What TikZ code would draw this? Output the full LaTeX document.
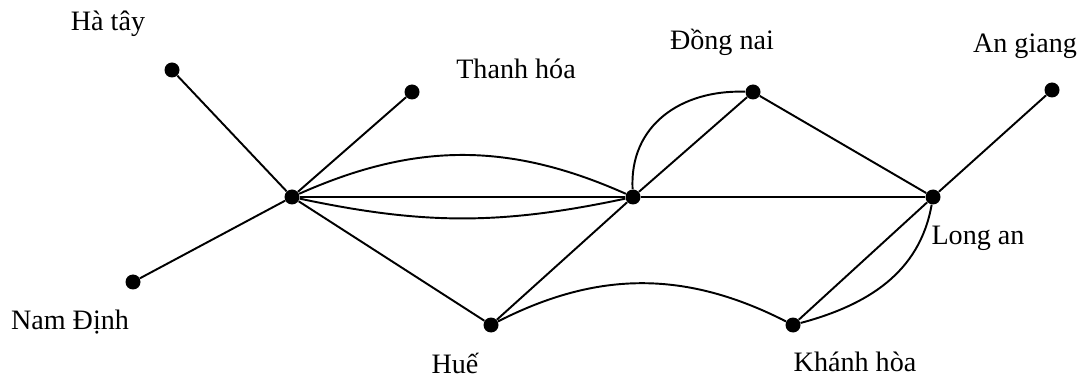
\documentclass[tikz,border=0pt]{standalone}
\usepackage{fontspec}
\setmainfont{Liberation Serif}
\usetikzlibrary{positioning}
\tikzset{town/.style={circle,fill=black,inner sep=0pt,minimum size=3mm},link/.style={line width=1.1pt},place/.style={font=\fontsize{16}{18}\selectfont,inner sep=1pt}}

\begin{document}
\begin{tikzpicture}[x=0.2mm,y=0.2mm]
\useasboundingbox (0,0) rectangle (1081,380);
% towns
\node[town] (hatay) at (172,310) {};
\node[town] (thanhhoa) at (412,288) {};
\node[town] (hubw) at (292,183) {};
\node[town] (namdinh) at (133,98) {};
\node[town] (hue) at (491,55) {};
\node[town] (hube) at (633,183) {};
\node[town] (dongnai) at (753,288) {};
\node[town] (longan) at (933,183) {};
\node[town] (angiang) at (1052,290) {};
\node[town] (khanhhoa) at (793,55) {};
% names
\node[place] (lhatay) at (108,356) {Hà tây};
\node[place] (lthanhhoa) at (516,311) {Thanh hóa};
\node[place] (ldongnai) at (722,338) {Đồng nai};
\node[place] (langiang) at (1025,334) {An giang};
\node[place] (lnamdinh) at (70,58) {Nam Định};
\node[place] (lhue) at (455,17) {Huế};
\node[place] (lkhanhhoa) at (855,18) {Khánh hòa};
\node[place] (llongan) at (978,142) {Long an};
% roads
\draw[link] (hatay) -- (hubw);
\draw[link] (thanhhoa) -- (hubw);
\draw[link] (namdinh) -- (hubw);
\draw[link] (hubw) -- (hube);
\draw[link] (hubw) to[bend left=24] (hube);
\draw[link] (hubw) to[bend right=12] (hube);
\draw[link] (hubw) -- (hue);
\draw[link] (hue) -- (hube);
\draw[link] (hube) -- (dongnai);
\draw[link] (hube) to[out=93,in=178,looseness=1.1] (dongnai);
\draw[link] (dongnai) -- (longan);
\draw[link] (hube) -- (longan);
\draw[link] (longan) -- (angiang);
\draw[link] (hue) to[bend left=27] (khanhhoa);
\draw[link] (khanhhoa) -- (longan);
\draw[link] (longan) to[out=-100,in=15] (khanhhoa);
\end{tikzpicture}
\end{document}
